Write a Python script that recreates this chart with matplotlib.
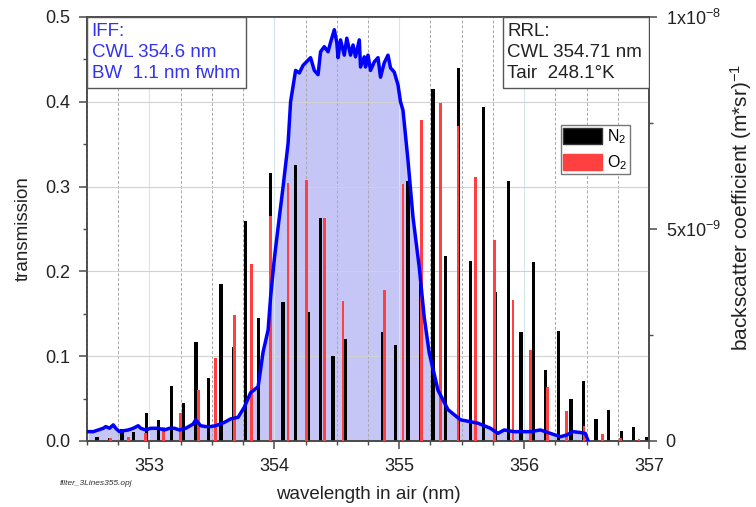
import numpy as np
import matplotlib.pyplot as plt
from matplotlib.patches import Rectangle, Patch
from matplotlib.ticker import MultipleLocator, FixedLocator, FixedFormatter

plt.rcParams['font.family'] = ['Liberation Sans', 'DejaVu Sans']
plt.rcParams['mathtext.default'] = 'regular'

# interference filter (IFF) transmission
filt_wl = [352.51, 352.55, 352.59, 352.63, 352.65, 352.68, 352.71, 352.73, 352.76, 352.79,
           352.83, 352.87, 352.91, 352.93, 352.97, 353.01, 353.07, 353.12, 353.16, 353.20,
           353.24, 353.29, 353.35, 353.37, 353.41, 353.45, 353.49, 353.53, 353.60, 353.65,
           353.71, 353.76, 353.81, 353.87, 353.91, 353.95, 353.97, 354.00, 354.03, 354.07,
           354.11, 354.13, 354.17, 354.20, 354.23, 354.27, 354.29, 354.32, 354.35, 354.37,
           354.40, 354.43, 354.45, 354.48, 354.50, 354.51, 354.53, 354.56, 354.58, 354.61,
           354.63, 354.65, 354.68, 354.69, 354.72, 354.73, 354.75, 354.77, 354.80, 354.83,
           354.85, 354.88, 354.91, 354.93, 354.96, 354.99, 355.01, 355.03, 355.07, 355.11,
           355.16, 355.20, 355.24, 355.31, 355.39, 355.49, 355.63, 355.73, 355.79, 355.84,
           355.92, 356.05, 356.13, 356.21, 356.29, 356.34, 356.39, 356.45, 356.49, 356.51]
filt_T = [0.011, 0.011, 0.013, 0.015, 0.017, 0.015, 0.019, 0.015, 0.011, 0.012,
          0.013, 0.015, 0.018, 0.015, 0.013, 0.015, 0.015, 0.013, 0.015, 0.015,
          0.013, 0.015, 0.020, 0.025, 0.018, 0.017, 0.017, 0.018, 0.022, 0.026,
          0.028, 0.040, 0.057, 0.064, 0.105, 0.131, 0.170, 0.215, 0.252, 0.300,
          0.351, 0.400, 0.437, 0.434, 0.443, 0.449, 0.452, 0.437, 0.432, 0.459,
          0.465, 0.459, 0.470, 0.485, 0.470, 0.452, 0.473, 0.455, 0.475, 0.455,
          0.467, 0.453, 0.473, 0.441, 0.453, 0.441, 0.455, 0.437, 0.447, 0.452,
          0.429, 0.446, 0.455, 0.440, 0.435, 0.420, 0.400, 0.390, 0.331, 0.264,
          0.205, 0.146, 0.104, 0.060, 0.037, 0.025, 0.021, 0.015, 0.009, 0.013,
          0.011, 0.011, 0.013, 0.009, 0.005, 0.007, 0.011, 0.010, 0.009, 0.001]

# rotational Raman lines, backscatter in units of 1e-9 (m*sr)^-1
n2_wl = [352.58, 352.68, 352.78, 352.875, 352.975, 353.074, 353.174, 353.274, 353.373, 353.473,
         353.572, 353.672, 353.771, 353.871, 353.970, 354.070, 354.170, 354.270, 354.369, 354.469,
         354.568,
         354.870, 354.970, 355.070, 355.170, 355.271, 355.371, 355.472, 355.572, 355.673, 355.773,
         355.874, 355.974, 356.074, 356.174, 356.275, 356.375, 356.476, 356.576, 356.677, 356.777,
         356.878, 356.978]
n2_beta = [0.10, 0.06, 0.28, 0.22, 0.66, 0.50, 1.30, 0.90, 2.34, 1.48,
           3.70, 2.22, 5.18, 2.90, 6.32, 3.28, 6.50, 3.04, 5.26, 2.00,
           2.40,
           2.58, 2.26, 6.14, 3.72, 8.30, 4.36, 8.80, 4.24, 7.88, 3.52,
           6.14, 2.58, 4.22, 1.68, 2.60, 0.98, 1.42, 0.52, 0.72, 0.24,
           0.32, 0.10]
o2_wl = [352.69, 352.83, 352.97, 353.11, 353.25, 353.39, 353.53, 353.68, 353.82, 353.97,
         354.11, 354.26, 354.40, 354.55,
         354.88, 355.03, 355.18, 355.33, 355.47, 355.61, 355.76, 355.91, 356.05, 356.19,
         356.34, 356.48, 356.63, 356.77, 356.92]
o2_beta = [0.08, 0.10, 0.18, 0.32, 0.66, 1.20, 1.96, 2.98, 4.18, 5.30,
           6.08, 6.16, 5.26, 3.30,
           3.56, 6.06, 7.58, 7.98, 7.42, 6.22, 4.74, 3.32, 2.14, 1.28,
           0.70, 0.36, 0.16, 0.08, 0.04]

fig = plt.figure(figsize=(7.56, 5.07), dpi=100)
ax = fig.add_axes([0.1151, 0.1302, 0.7434, 0.8363])
ax2 = ax.twinx()

# filter curve: fill below, grid above fill
ax.fill_between(filt_wl, filt_T, 0, color='#c6c6f6', lw=0, zorder=1)
ax.set_axisbelow(False)
ax.grid(which='major', axis='y', color='#d2d2d2', lw=0.8)
ax.grid(which='major', axis='x', color='#d4e6ea', lw=0.8)
ax.grid(which='minor', axis='x', color='#a8a8a8', ls=(0, (3, 2)), lw=0.7)

ax2.bar(n2_wl, np.array(n2_beta) * 1e-9, width=0.026, color='black', lw=0, zorder=2)
ax2.bar(o2_wl, np.array(o2_beta) * 1e-9, width=0.022, color='#ff4040', lw=0, zorder=3)
ax2.plot(filt_wl, filt_T, transform=ax.transData, color='#0000ff', lw=2.5,
         solid_joinstyle='round', zorder=4)

ax.set_xlim(352.5, 357)
ax.set_ylim(0, 0.5)
ax2.set_ylim(0, 1e-8)

ax.xaxis.set_major_locator(MultipleLocator(1))
ax.xaxis.set_minor_locator(MultipleLocator(0.25))
ax.yaxis.set_major_locator(MultipleLocator(0.1))
ax.yaxis.set_minor_locator(MultipleLocator(0.05))
ax2.yaxis.set_major_locator(FixedLocator([0, 5e-9, 1e-8]))
ax2.yaxis.set_minor_locator(FixedLocator([2.5e-9, 7.5e-9]))
ax2.yaxis.set_major_formatter(FixedFormatter(['0', r'5x10$^{-9}$', r'1x10$^{-8}$']))

spine_col = '#4a4a4a'
for a in (ax, ax2):
    for s in a.spines.values():
        s.set_color(spine_col)
        s.set_linewidth(1.2)
    a.tick_params(which='major', direction='out', length=6, width=1.1,
                  color=spine_col, labelsize=13, labelcolor='#222222', pad=6)
    a.tick_params(which='minor', direction='out', length=3, width=1.0, color=spine_col)

ax.set_xlabel('wavelength in air (nm)', fontsize=13.5, color='#222222', labelpad=8)
ax.set_ylabel('transmission', fontsize=13.5, color='#222222', labelpad=10)
ax2.set_ylabel('backscatter coefficient (m*sr)$^{-1}$', fontsize=15, color='#222222')
ax2.yaxis.set_label_coords(1.141, 0.552)

# info boxes in the upper corners
ax2.add_patch(Rectangle((0, 0.8325), 0.283, 0.1675, transform=ax2.transAxes,
                        facecolor='white', edgecolor='#555555', lw=1.0, zorder=5))
ax2.text(0.008, 0.985, 'IFF:\nCWL 354.6 nm\nBW  1.1 nm fwhm', transform=ax2.transAxes,
         ha='left', va='top', fontsize=13.5, color='#3333ee', linespacing=1.28, zorder=6)
ax2.add_patch(Rectangle((0.740, 0.8325), 0.260, 0.1675, transform=ax2.transAxes,
                        facecolor='white', edgecolor='#555555', lw=1.0, zorder=5))
ax2.text(0.748, 0.985, 'RRL:\nCWL 354.71 nm\nTair  248.1°K', transform=ax2.transAxes,
         ha='left', va='top', fontsize=13.5, color='#222222', linespacing=1.28, zorder=6)

handles = [Patch(facecolor='black', edgecolor='#333333', label='N$_2$'),
           Patch(facecolor='#ff4040', edgecolor='#ff4040', label='O$_2$')]
leg = ax2.legend(handles=handles, loc='upper left', bbox_to_anchor=(0.843, 0.745),
                 borderaxespad=0, fontsize=11.5, handlelength=2.45, handleheight=1.1,
                 handletextpad=0.3, labelspacing=0.45, borderpad=0.15,
                 fancybox=False, framealpha=1, edgecolor='#777777')
leg.set_zorder(6)

fig.text(0.079, 0.043, 'filter_3Lines355.opj', fontsize=6, style='italic', color='#333333')

fig.savefig('out.png', dpi=100)
